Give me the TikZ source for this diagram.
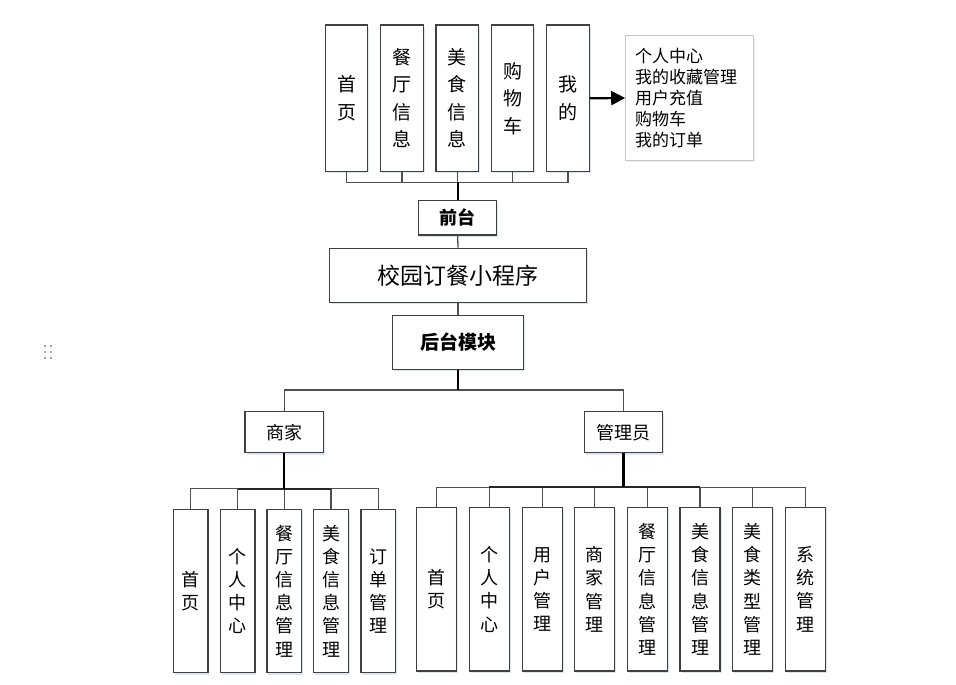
\documentclass[tikz,border=0pt]{standalone}
\usepackage{fontspec}
\setmainfont{Noto Sans CJK SC}
\usetikzlibrary{arrows.meta,shadows}
\definecolor{boxline}{HTML}{404040}
\definecolor{connline}{HTML}{505050}
\definecolor{shadowc}{HTML}{DCE6F2}
\tikzset{
  box/.style={draw=boxline, line width=1.3pt, fill=white, inner sep=0pt, align=center, text=black,
    drop shadow={shadow xshift=1.5pt, shadow yshift=-1.8pt, fill=shadowc, opacity=1}},
  topbox/.style={box, minimum width=42.5pt, minimum height=146.7pt, font=\fontsize{19}{27.5}\selectfont},
  mbox/.style={box, minimum width=34.7pt, minimum height=163.4pt, font=\fontsize{18}{23.2}\selectfont},
  abox/.style={box, minimum width=40pt, minimum height=163.3pt, font=\fontsize{18}{23.2}\selectfont},
  rolebox/.style={box, minimum width=78.4pt, minimum height=41pt, font=\fontsize{18}{22}\selectfont},
  conn/.style={draw=connline, line width=1.3pt},
  mainconn/.style={draw=black, line width=2.2pt},
  midconn/.style={draw=black!85, line width=1.7pt},
}
\begin{document}
\begin{tikzpicture}[x=1pt,y=-1pt]
\useasboundingbox (0,0) rectangle (956,685);
% drag handle
\foreach \dx in {44,49.7}{\foreach \dy in {344.7,350.7,356.7}{\fill[gray!70] (\dx,\dy) rectangle ++(2.4,2.4);}}
% top boxes
\node[topbox] (t1) at (346.5,98.3) {首\\页};
\node[topbox] (t2) at (402,98.3) {餐\\厅\\信\\息};
\node[topbox] (t3) at (457.2,98.3) {美\\食\\信\\息};
\node[topbox] (t4) at (512.5,98.3) {购\\物\\车};
\node[topbox] (t5) at (568,98.3) {我\\的};
% callout
\node[draw=black!22, line width=1pt, fill=white, inner xsep=9.3pt, inner ysep=0pt, text width=109pt,
  minimum height=124pt, align=left, font=\fontsize{17}{21.2}\selectfont,
  drop shadow={shadow xshift=1.5pt, shadow yshift=-1.8pt, fill=shadowc}] (cb) at (689.5,98)
  {个人中心\\我的收藏管理\\用户充值\\购物车\\我的订单};
\draw[black, line width=2.2pt, -{Triangle[length=14pt,width=14pt]}] (t5.east) -- (cb.west);
% front / main / back
\node[box, minimum width=78pt, minimum height=34.3pt, font=\fontsize{18}{20}\selectfont\bfseries] (qt) at (457.7,217.9) {前台};
\node[box, minimum width=257.4pt, minimum height=54pt, font=\fontsize{23}{26}\selectfont] (xy) at (458,275.3) {校园订餐小程序};
\node[box, minimum width=130.6pt, minimum height=53.6pt, font=\fontsize{19}{22}\selectfont\bfseries] (ht) at (458,342.5) {后台模块};
\coordinate (tj) at (457.7,182.3);
\draw[conn] (t1.south) -- (t1.south |- tj) -- (t5.south |- tj) -- (t5.south);
\foreach \n in {t2,t3,t4}{\draw[conn] (\n.south) -- (\n.south |- tj);}
\draw[mainconn] (tj) -- (qt.north);
\draw[conn] (qt.south) -- (xy.north);
\draw[conn] (xy.south) -- (ht.south |- xy.south) -- (ht.north);
% roles
\node[rolebox] (sj) at (284.2,432.2) {商家};
\node[rolebox] (gl) at (623.5,432.2) {管理员};
\coordinate (hj) at (458,390);
\draw[conn] (sj.north) |- (hj) -| (gl.north);
\draw[mainconn] (ht.south) -- (hj);
% merchant children
\node[mbox] (m1) at (190.5,591) {首\\页};
\node[mbox] (m2) at (237.5,591) {个\\人\\中\\心};
\node[mbox] (m3) at (284.2,591) {餐\\厅\\信\\息\\管\\理};
\node[mbox] (m4) at (331,591) {美\\食\\信\\息\\管\\理};
\node[mbox] (m5) at (378.2,591) {订\\单\\管\\理};
\coordinate (mj) at (284.2,488.7);
\draw[conn] (m1.north) |- (mj) -| (m5.north);
\foreach \n in {m2,m3,m4}{\draw[conn] (\n.north) -- (\n.north |- mj);}
\draw[midconn] (m2.north |- mj) -- (m4.north |- mj);
\draw[mainconn] (sj.south) -- (mj);
% admin children
\node[abox] (a1) at (436.7,589.3) {首\\页};
\node[abox] (a2) at (489.3,589.3) {个\\人\\中\\心};
\node[abox] (a3) at (542.2,589.3) {用\\户\\管\\理};
\node[abox] (a4) at (594.8,589.3) {商\\家\\管\\理};
\node[abox] (a5) at (647.3,589.3) {餐\\厅\\信\\息\\管\\理};
\node[abox] (a6) at (700,589.3) {美\\食\\信\\息\\管\\理};
\node[abox] (a7) at (752.7,589.3) {美\\食\\类\\型\\管\\理};
\node[abox] (a8) at (805.7,589.3) {系\\统\\管\\理};
\coordinate (aj) at (623.5,487.3);
\draw[conn] (a1.north) |- (aj) -| (a8.north);
\foreach \n in {a2,a3,a4,a5,a6,a7}{\draw[conn] (\n.north) -- (\n.north |- aj);}
\draw[midconn] (a2.north |- aj) -- (a6.north |- aj);
\draw[mainconn] (gl.south) -- (aj);
\end{tikzpicture}
\end{document}
